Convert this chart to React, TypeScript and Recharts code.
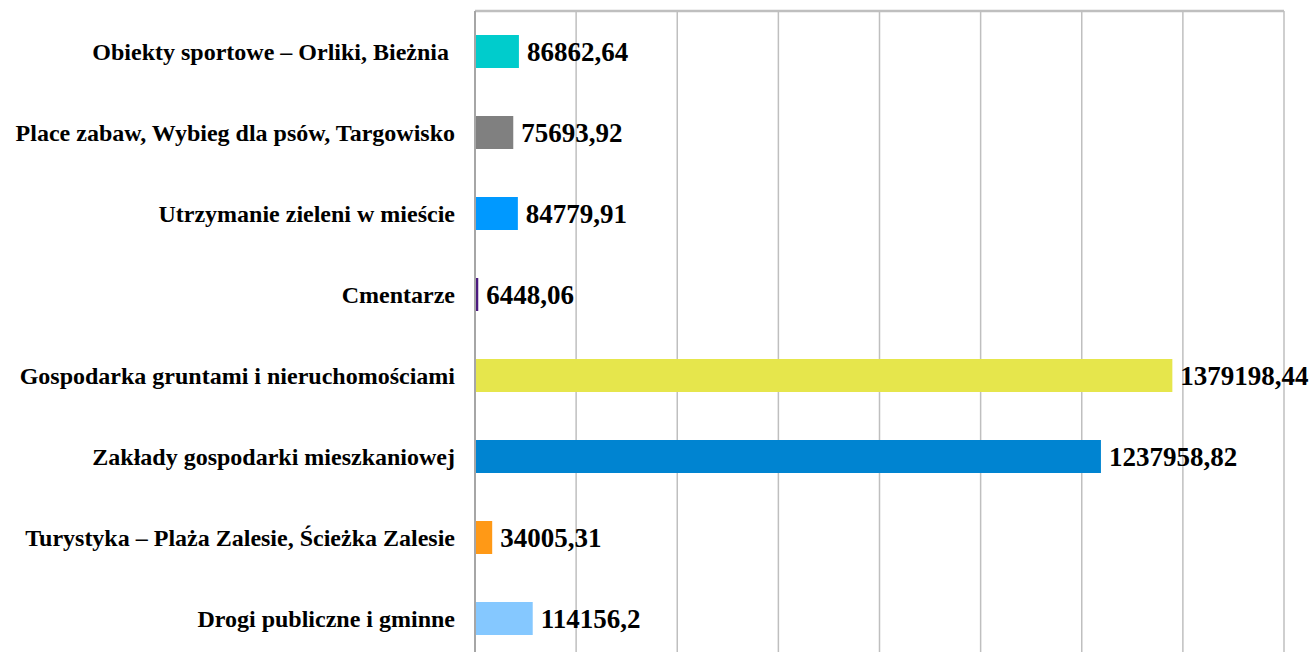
import { BarChart, Bar, XAxis, YAxis, CartesianGrid, Cell, LabelList } from "recharts";

const categories = [
  "Obiekty sportowe – Orliki, Bieżnia\u00A0",
  "Place zabaw, Wybieg dla psów, Targowisko",
  "Utrzymanie zieleni w mieście",
  "Cmentarze",
  "Gospodarka gruntami i nieruchomościami",
  "Zakłady gospodarki mieszkaniowej",
  "Turystyka – Plaża Zalesie, Ścieżka Zalesie",
  "Drogi publiczne i gminne",
];
const values = [86862.64, 75693.92, 84779.91, 6448.06, 1379198.44, 1237958.82, 34005.31, 114156.2];
const colors = ["#00CCCC", "#808080", "#0099FF", "#4B1A7F", "#E6E64C", "#0084D1", "#FF9916", "#85C8FF"];
const xTicks = [0, 200000, 400000, 600000, 800000, 1000000, 1200000, 1400000, 1600000];

const data = categories.map((name, i) => ({ name, value: values[i] }));
const font = "'Liberation Serif', 'Times New Roman', serif";
const fmt = (v: number) => String(v).replace(".", ",");

export default function App() {
  return (
    <div style={{ position: "absolute", left: 0, top: 0, width: 1311, height: 652, overflow: "hidden", background: "#fff" }}>
      <BarChart
        width={1311}
        height={670}
        data={data}
        layout="vertical"
        margin={{ top: 0, right: 27, bottom: 11, left: 0 }}
        barCategoryGap={24}
      >
        <CartesianGrid horizontal={false} stroke="#BFBFBF" strokeWidth={1.5} />
        <XAxis
          type="number"
          orientation="top"
          domain={[0, 1600000]}
          ticks={xTicks}
          tick={() => <g />}
          tickLine={false}
          height={11}
          axisLine={{ stroke: "#BFBFBF", strokeWidth: 2.5 }}
        />
        <YAxis
          type="category"
          dataKey="name"
          width={475}
          tickLine={false}
          tickSize={0}
          tickMargin={20}
          axisLine={{ stroke: "#A6A6A6", strokeWidth: 2 }}
          tick={{ fill: "#000", fontSize: 24, fontWeight: 700, fontFamily: font }}
          interval={0}
        />
        <Bar dataKey="value" barSize={33} isAnimationActive={false}>
          {data.map((d, i) => (
            <Cell key={d.name} fill={colors[i]} />
          ))}
          <LabelList
            dataKey="value"
            position="right"
            offset={8}
            formatter={(v: number) => fmt(v)}
            style={{ fill: "#000", fontSize: 27, fontWeight: 700, fontFamily: font }}
          />
        </Bar>
      </BarChart>
    </div>
  );
}
